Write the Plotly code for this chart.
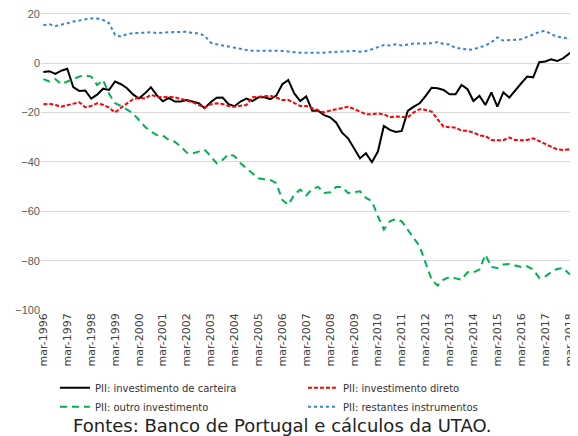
import plotly.graph_objects as go

# Quarterly labels, mar-1996 .. jun-2018
MONTHS = ["mar", "jun", "set", "dez"]
quarters = [f"{m}-{y}" for y in range(1996, 2019) for m in MONTHS][:90]
tick_labels = [q for q in quarters if q.startswith("mar")]

carteira = [
    -3.5, -3.2, -4.3, -3.0, -2.2, -9.7, -11.2, -11.0, -14.3, -12.7,
    -10.3, -10.8, -7.4, -8.5, -10.1, -12.6, -14.3, -12.2, -9.7, -13.0,
    -15.4, -14.0, -15.5, -15.5, -14.9, -15.5, -16.2, -18.2, -15.8, -14.0,
    -13.9, -16.6, -17.4, -15.5, -14.3, -15.3, -13.8, -13.8, -14.5, -13.1,
    -8.5, -6.8, -12.2, -15.3, -13.4, -19.2, -19.2, -21.0, -21.9, -24.0,
    -28.1, -30.4, -34.5, -38.5, -36.5, -40.1, -35.8, -25.4, -27.0, -27.8,
    -27.4, -19.3, -17.6, -16.2, -13.2, -9.9, -10.1, -10.8, -12.6, -12.6,
    -8.8, -10.5, -15.3, -13.2, -16.9, -11.8, -17.6, -11.8, -13.9, -10.8,
    -8.1, -5.4, -5.7, 0.4, 0.7, 1.6, 0.9, 2.0, 4.1, 5.8,
]

direto = [
    -16.6, -16.4, -16.9, -17.6, -17.0, -16.4, -15.8, -17.8, -17.3, -16.2,
    -16.8, -18.0, -19.9, -18.0, -16.2, -14.6, -13.9, -14.3, -12.8, -13.5,
    -13.8, -13.5, -13.8, -14.3, -15.1, -15.8, -16.9, -18.0, -16.6, -16.2,
    -16.5, -17.3, -17.6, -17.3, -16.9, -13.8, -13.5, -13.5, -13.2, -13.9,
    -14.9, -14.9, -16.0, -17.3, -17.3, -18.2, -19.3, -19.9, -19.2, -18.6,
    -18.2, -17.6, -18.5, -19.6, -20.7, -20.7, -20.3, -20.7, -21.9, -21.6,
    -21.6, -21.9, -19.9, -18.6, -18.9, -19.6, -22.7, -25.7, -25.9, -26.1,
    -27.3, -27.4, -28.1, -29.2, -29.5, -31.1, -31.2, -31.2, -30.1, -31.1,
    -31.2, -31.1, -30.4, -31.4, -32.7, -33.8, -34.9, -35.1, -34.9, -35.5,
]

outro = [
    -6.4, -7.4, -6.4, -8.5, -7.4, -6.5, -5.4, -4.9, -5.4, -8.8,
    -6.8, -12.4, -16.2, -17.3, -18.9, -20.3, -23.0, -25.7, -27.7, -29.1,
    -29.3, -31.1, -31.8, -33.8, -36.2, -36.5, -35.8, -35.1, -37.6, -40.5,
    -39.2, -36.8, -37.6, -40.5, -42.6, -44.6, -46.6, -47.0, -47.3, -48.6,
    -55.4, -57.4, -53.2, -51.2, -53.5, -51.0, -50.1, -52.6, -52.3, -50.1,
    -50.1, -52.6, -52.2, -51.9, -54.6, -55.9, -62.0, -67.4, -64.1, -63.1,
    -64.1, -67.4, -71.2, -74.2, -81.0, -87.7, -90.1, -87.7, -86.6, -87.0,
    -87.7, -84.7, -84.7, -83.6, -77.6, -82.6, -83.0, -81.6, -81.4, -82.0,
    -82.6, -82.3, -83.6, -87.0, -86.4, -84.7, -83.4, -83.0, -85.3, -86.1,
]

restantes = [
    15.5, 15.8, 15.1, 15.5, 16.2, 16.9, 17.3, 18.0, 18.2, 18.1,
    17.6, 16.2, 11.5, 10.8, 11.8, 12.2, 12.2, 12.4, 12.6, 12.2,
    12.4, 12.7, 12.7, 12.7, 12.8, 12.2, 12.2, 11.1, 8.4, 7.7,
    7.2, 6.8, 6.4, 5.7, 5.4, 5.1, 5.1, 5.4, 5.4, 5.1,
    5.0, 4.7, 4.5, 4.3, 4.3, 4.3, 4.1, 4.3, 4.5, 4.6,
    4.7, 4.7, 5.0, 4.7, 5.0, 5.7, 6.4, 7.4, 7.2, 7.7,
    7.2, 7.7, 8.0, 8.0, 8.0, 8.1, 8.6, 7.8, 7.7, 6.1,
    6.1, 5.4, 5.7, 6.4, 7.2, 8.5, 10.5, 9.2, 9.3, 9.5,
    9.7, 10.7, 11.8, 12.7, 13.2, 11.8, 10.8, 10.4, 9.9, 9.5,
]

SERIES = [
    ("PII: investimento de carteira", carteira, {"color": "#000000", "width": 2, "dash": "solid"}),
    ("PII: investimento direto", direto, {"color": "#FF0000", "width": 2, "dash": "4px,2px"}),
    ("PII: outro investimento", outro, {"color": "#00B050", "width": 2, "dash": "7px,5px"}),
    ("PII: restantes instrumentos", restantes, {"color": "#2F86D1", "width": 2, "dash": "dot"}),
]

fig = go.Figure()
for name, values, line in SERIES:
    fig.add_trace(go.Scatter(x=quarters, y=values, mode="lines", name=name, line=line,
                             hovertemplate=name + ": %{y}<br>%{x}<extra></extra>"))

fig.add_annotation(text="Fontes: Banco de Portugal e cálculos da UTAO.",
                   xref="paper", yref="paper", x=0.056, y=-0.385,
                   xanchor="left", yanchor="middle", showarrow=False,
                   font={"family": "DejaVu Sans", "size": 18, "color": "#222222"})

# page body has an 8px margin, so the figure is 8px smaller than the window
fig.update_layout(
    width=570,
    height=428,
    margin={"l": 33, "r": 0, "t": 1, "b": 126, "autoexpand": False},
    paper_bgcolor="white",
    plot_bgcolor="white",
    showlegend=True,
    legend={
        "orientation": "h",
        "x": 0.026, "y": -0.21,
        "xanchor": "left", "yanchor": "top",
        "entrywidth": 203,
        "font": {"family": "DejaVu Sans", "size": 10, "color": "#333333"},
        "tracegroupgap": 0,
        "itemwidth": 30,
    },
    xaxis={
        "type": "category",
        "range": [-0.4, 89.5],
        "tickmode": "array",
        "tickvals": tick_labels,
        "ticktext": tick_labels,
        "tickangle": -90,
        "showgrid": False,
        "showline": False,
        "ticks": "",
        "automargin": False,
        "tickfont": {"family": "DejaVu Sans", "size": 11, "color": "#404040"},
    },
    yaxis={
        "range": [-100, 22],
        "tickvals": [20, 0, -20, -40, -60, -80, -100],
        "showgrid": True,
        "gridcolor": "#D9D9D9",
        "gridwidth": 1,
        "zeroline": False,
        "showline": False,
        "ticks": "",
        "automargin": False,
        "ticklabeloverflow": "allow",
        "tickfont": {"family": "Liberation Sans", "size": 11, "color": "#595959"},
    },
)

fig.write_html("out.html")
